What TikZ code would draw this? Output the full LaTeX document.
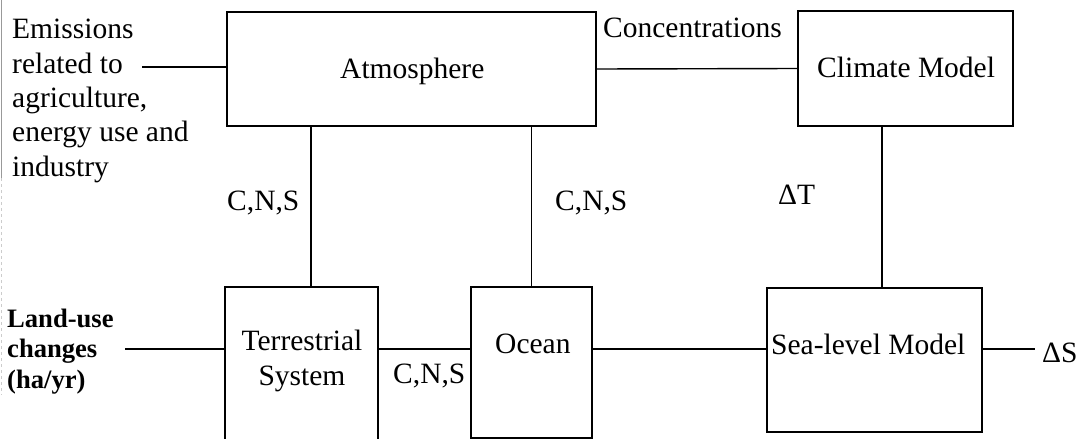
\documentclass[tikz,border=0pt]{standalone}
\usepackage{fontspec}
\setmainfont{Liberation Serif}
\begin{document}
\begin{tikzpicture}[x=1pt,y=-1pt,
  box/.style={draw, line width=2pt, inner sep=0pt},
  conn/.style={line width=1.4pt},
  lbl/.style={font=\fontsize{29.5}{34.3}\selectfont, inner sep=0pt},
  blbl/.style={font=\fontsize{26.6}{30.5}\selectfont\bfseries, inner sep=0pt}]
\useasboundingbox (0,0) rectangle (1079,439);
% scan edge
\draw[gray!80, line width=1.2pt] (1.5,0) -- (1.5,178);
\draw[gray!40, line width=1pt, dash pattern=on 3pt off 3pt] (1.5,178) -- (1.5,395);
% boxes
\node[box, minimum width=369pt, minimum height=114pt] (atm) at (411.5,69) {};
\node[box, minimum width=215pt, minimum height=115pt] (clim) at (905.5,68.5) {};
\node[box, minimum width=153pt, minimum height=158pt] (terr) at (301.5,366) {};
\node[box, minimum width=121pt, minimum height=150.5pt] (ocean) at (531.5,362.25) {};
\node[box, minimum width=215pt, minimum height=144pt] (sea) at (874.5,360) {};
% box texts
\node[lbl, anchor=base west] (tatm) at (340,78) {Atmosphere};
\node[lbl, anchor=base west] (tclim) at (817,77) {Climate Model};
\node[lbl, anchor=base, align=center] (tterr) at (302,385) {Terrestrial\\System};
\node[lbl, anchor=base west] (tocean) at (495,353) {Ocean};
\node[lbl, anchor=base west] (tsea) at (771,354) {Sea-level Model};
% other labels
\node[lbl, anchor=base west, align=left] (emis) at (12,176) {Emissions\\related to\\agriculture,\\energy use and\\industry};
\node[blbl, anchor=base west, align=left] (land) at (7,388) {Land-use\\changes\\(ha/yr)};
\node[lbl, anchor=base west] (conc) at (603,37) {Concentrations};
\node[lbl, anchor=base west] (cns1) at (227,210) {C,N,S};
\node[lbl, anchor=base west] (cns2) at (555,210) {C,N,S};
\node[lbl, anchor=base west] (cns3) at (393,383) {C,N,S};
\node[lbl, anchor=base west] (dT) at (778,204) {ΔT};
\node[lbl, anchor=base west] (dS) at (1042,362) {ΔS};
% connectors
\coordinate (e1) at (142,67);
\draw[conn] (e1) -- (e1 -| atm.west);
\draw[conn] (atm.east) -- (clim.west);
\coordinate (v1) at (311,0);
\draw[conn] (v1 |- atm.south) -- (v1 |- terr.north);
\draw[conn] (atm.south -| ocean.north) -- (ocean.north);
\coordinate (v3) at (882,0);
\draw[conn] (v3 |- clim.south) -- (v3 |- sea.north);
\coordinate (lu) at (125,349);
\draw[conn] (lu) -- (lu -| terr.west);
\coordinate (h) at (0,349);
\draw[conn] (h -| terr.east) -- (h -| ocean.west);
\draw[conn] (h -| ocean.east) -- (h -| sea.west);
\coordinate (ds) at (1035,349);
\draw[conn] (ds -| sea.east) -- (ds);
\end{tikzpicture}
\end{document}
